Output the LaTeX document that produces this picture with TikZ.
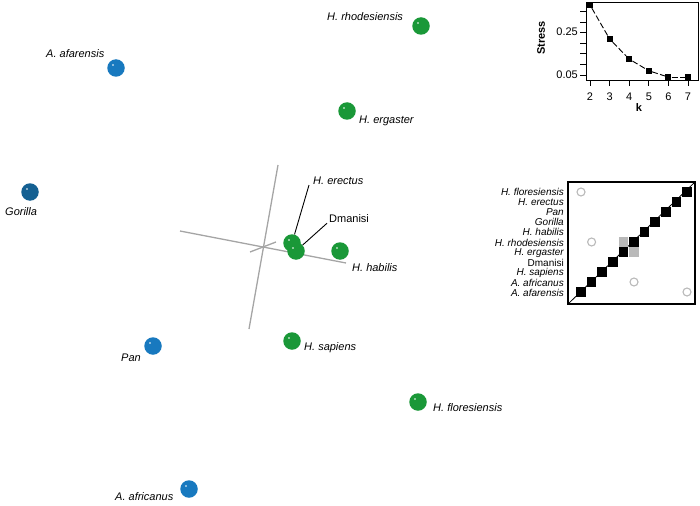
\documentclass[tikz,border=0pt]{standalone}
\usepackage{fontspec}
\setmainfont{Liberation Sans}
\usetikzlibrary{positioning}
\definecolor{apeBlue}{RGB}{24,121,191}
\definecolor{gorillaBlue}{RGB}{20,96,146}
\definecolor{homoGreen}{RGB}{26,152,56}
\definecolor{axisGray}{RGB}{165,165,165}
\definecolor{cellGray}{RGB}{185,185,185}
\tikzset{taxon/.style={circle, fill=#1, minimum size=17.5pt, inner sep=0pt,
    path picture={\fill[white] ([xshift=-3pt,yshift=3pt]path picture bounding box.center) circle (0.9pt);}},
  species/.style={font=\fontsize{11}{13}\selectfont\itshape, inner sep=0pt, anchor=west},
  rowlabel/.style={font=\fontsize{10}{11}\selectfont\itshape, inner sep=0pt, anchor=east},
  ticklabel/.style={font=\fontsize{11}{13}\selectfont, inner sep=0pt},
  cell/.style={fill=#1, minimum size=9.5pt, inner sep=0pt},
  ring/.style={circle, draw=cellGray, line width=1.1pt, minimum size=8pt, inner sep=0pt},
  stressmark/.style={fill=black, minimum size=6pt, inner sep=0pt}}

\begin{document}
\begin{tikzpicture}[x=1pt, y=-1pt]

    \useasboundingbox (0,0) rectangle (700,505);

    % Axes of the projection
    \begin{scope}[axisGray, line width=1.3pt]
        \draw (180,231) -- (346,263);
        \draw (278,165) -- (249,329);
        \draw (250,252) -- (276,242);
    \end{scope}

    % Taxa
    \node (rho) [taxon=homoGreen] at (421,26) {};
    \node (afa) [taxon=apeBlue] at (116,68) {};
    \node (erg) [taxon=homoGreen] at (347,111) {};
    \node (gor) [taxon=gorillaBlue] at (30,192) {};
    \node (ere) [taxon=homoGreen] at (292,243) {};
    \node (dma) [taxon=homoGreen] at (296,251) {};
    \node (hab) [taxon=homoGreen] at (340,251) {};
    \node (pan) [taxon=apeBlue] at (153,346) {};
    \node (sap) [taxon=homoGreen] at (292,341) {};
    \node (flo) [taxon=homoGreen] at (418,402) {};
    \node (afr) [taxon=apeBlue] at (189,489) {};

    % Labels
    \node (rhoLab) [species] at (327,17) {H. rhodesiensis};
    \node (afaLab) [species] at (46,54) {A. afarensis};
    \node (ergLab) [species] at (359,121) {H. ergaster};
    \node (gorLab) [species] at (5,212) {Gorilla};
    \node (ereLab) [species] at (313,181) {H. erectus};
    \node (dmaLab) [species, font=\fontsize{11}{13}\selectfont] at (329,219) {Dmanisi};
    \node (habLab) [species] at (352,268) {H. habilis};
    \node (panLab) [species] at (121,358) {Pan};
    \node (sapLab) [species] at (304,348) {H. sapiens};
    \node (floLab) [species] at (433,408) {H. floresiensis};
    \node (afrLab) [species] at (115,497) {A. africanus};

    \draw [line width=0.9pt] ([xshift=-4pt]ereLab.south west) -- (ere);
    \draw [line width=0.9pt] ([xshift=-2pt]dmaLab.south west) -- (dma);

    % Stress plot
    \draw [line width=1pt] (586,3) rectangle (698,81);
    \foreach \t in {0,...,6}
        \draw [line width=0.9pt] (580,{75-10.6*\t}) -- (586,{75-10.6*\t});
    \foreach \k in {2,...,7} {
        \draw [line width=0.9pt] ({590+19.6*(\k-2)},81) -- ({590+19.6*(\k-2)},86);
        \node [ticklabel] at ({590+19.6*(\k-2)},97) {\k};
    }
    \node [ticklabel, anchor=east] at (578,32) {0.25};
    \node [ticklabel, anchor=east] at (578,75) {0.05};
    \node (kLab) [ticklabel, font=\fontsize{11}{13}\selectfont\bfseries] at (639,108) {k};
    \node (stressLab) [ticklabel, font=\fontsize{11}{13}\selectfont\bfseries, rotate=90] at (541,38) {Stress};

    \foreach \k/\s [count=\n] in {2/0.38, 3/0.22, 4/0.125, 5/0.07, 6/0.04, 7/0.04}
        \node (s\n) [stressmark] at ({590+19.6*(\k-2)},{75-212*(\s-0.05)}) {};
    \begin{scope}[line width=0.9pt, dash pattern=on 6pt off 2.5pt]
        \draw (s1) -- (s2);
        \draw (s2) -- (s3);
        \draw (s3) -- (s4);
        \draw (s4) -- (s5);
        \draw (s5) -- (s6);
    \end{scope}

    % Distance matrix
    \draw [line width=0.8pt] (568,304) -- (695,182);
    \foreach \i in {0,...,10}
        \node (d\i) [cell=black] at ({581+10.6*\i},{292-10*\i}) {};
    \node (g1) [cell=cellGray] at ({581+10.6*4},{292-10*5}) {};
    \node (g2) [cell=cellGray] at ({581+10.6*5},{292-10*4}) {};
    \node (c1) [ring] at ({581+10.6*0},{292-10*10}) {};
    \node (c2) [ring] at ({581+10.6*1},{292-10*5}) {};
    \node (c3) [ring] at ({581+10.6*5},{292-10*1}) {};
    \node (c4) [ring] at ({581+10.6*10},{292-10*0}) {};
    \draw [line width=1.3pt] (568,182) rectangle (695,304);

    \foreach \name [count=\j from 0] in {A. afarensis, A. africanus, H. sapiens, {\upshape Dmanisi}, H. ergaster,
            H. rhodesiensis, H. habilis, Gorilla, Pan, H. erectus, H. floresiensis}
        \node (r\j) [rowlabel] at (564,{293-10.1*\j}) {\name};

\end{tikzpicture}
\end{document}
